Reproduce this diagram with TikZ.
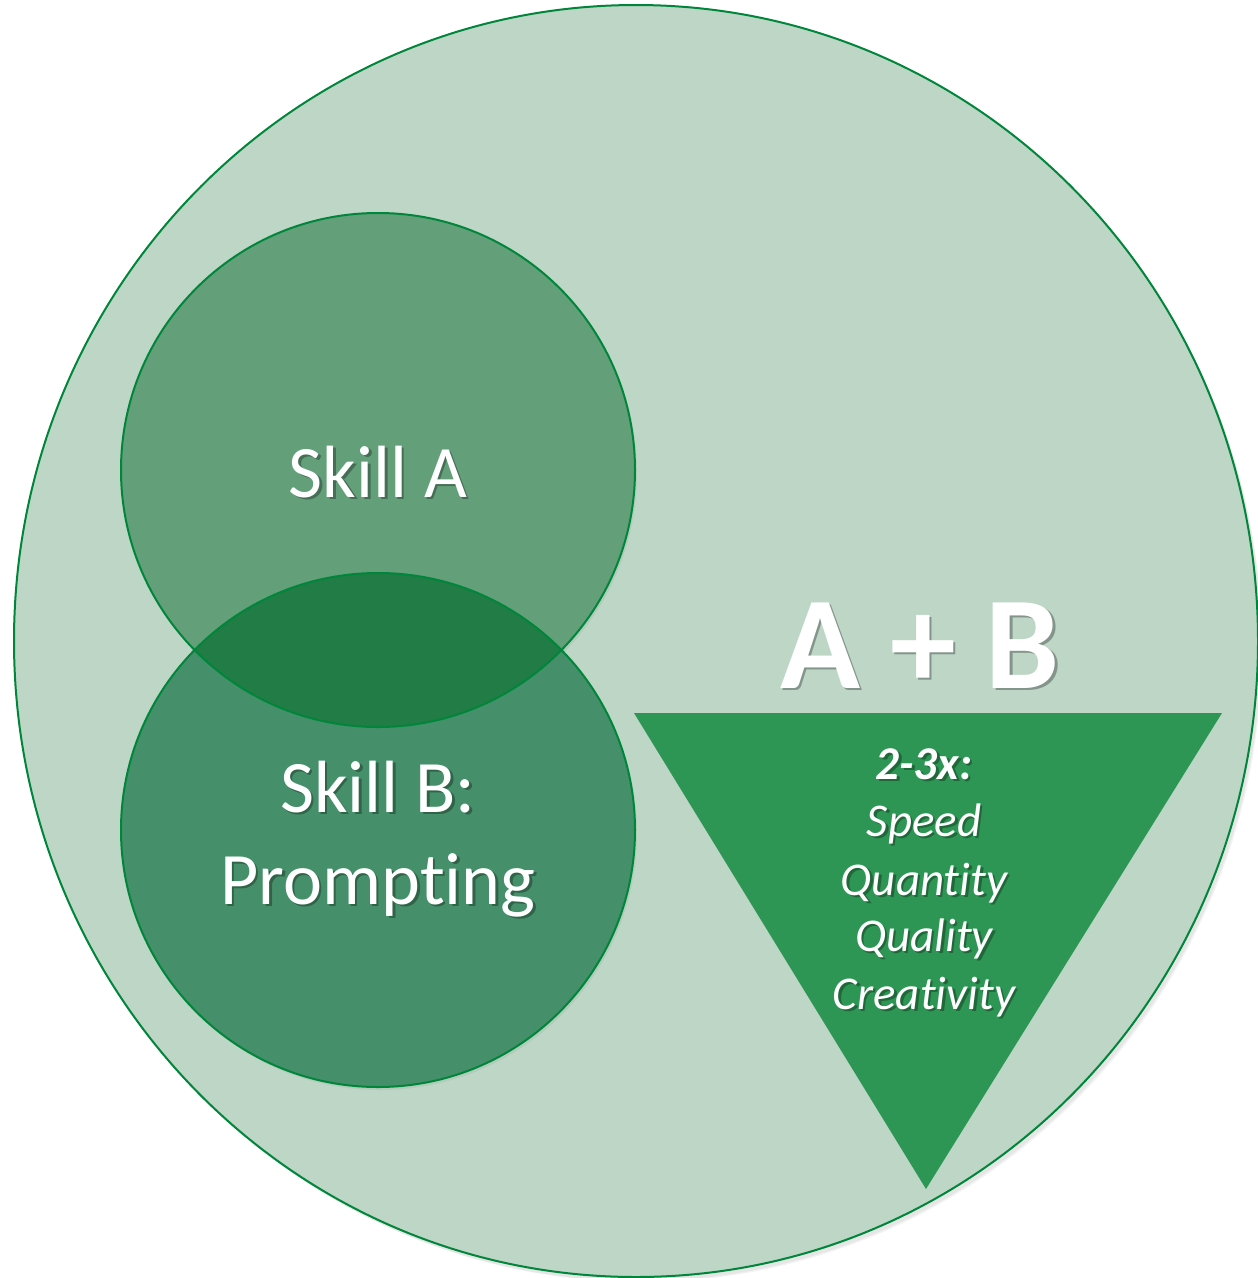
\documentclass[tikz,border=0pt]{standalone}
\usepackage{fontspec}
\setmainfont{Carlito}[Ligatures={NoCommon}]
\definecolor{bigfill}{HTML}{BDD6C6}
\definecolor{edgegreen}{HTML}{00863A}
\definecolor{afill}{HTML}{63A07A}
\definecolor{bfill}{HTML}{45906A}
\definecolor{abfill}{HTML}{227C45}
\definecolor{trifill}{HTML}{2E9654}
\newcommand{\stxt}[4]{%
  \node[shadowtext, font={#3}, xshift=2.5pt, yshift=-2.5pt] (#1s) at (#2) {#4};
  \node[whitetext, font={#3}] (#1) at (#2) {#4};
}
\begin{document}
\begin{tikzpicture}[x=1pt,y=-1pt,
  edgeline/.style={draw=edgegreen, line width=2pt},
  whitetext/.style={text=white, inner sep=0pt, anchor=base},
  shadowtext/.style={text=black, opacity=0.3, inner sep=0pt, anchor=base},
  shapeshadow/.style={fill=black, opacity=0.05}
]
\useasboundingbox (0,0) rectangle (1258,1278);
% outer circle
\fill[shapeshadow] (639,645) ellipse [x radius=622pt, y radius=636pt];
\fill[shapeshadow] (641,647) ellipse [x radius=621pt, y radius=635pt];
\fill[bigfill] (636,641) ellipse [x radius=622pt, y radius=636pt];
\draw[edgeline] (636,641) ellipse [x radius=622pt, y radius=636pt];
% skill circles
\fill[shapeshadow] (380,473) circle [radius=257pt];
\fill[shapeshadow] (380,833) circle [radius=257pt];
\fill[afill] (378,470) circle [radius=257pt];
\fill[bfill] (378,830) circle [radius=257pt];
\begin{scope}
  \clip (378,470) circle [radius=257pt];
  \fill[abfill] (378,830) circle [radius=257pt];
\end{scope}
\draw[edgeline] (378,470) circle [radius=257pt];
\draw[edgeline] (378,830) circle [radius=257pt];
% triangle
\fill[trifill] (634,713) -- (1222,713) -- (926,1189) -- cycle;
% texts
\stxt{skilla}{378,497}{\fontsize{74}{90}\selectfont}{Skill A}
\stxt{skillb}{378,812}{\fontsize{74}{90}\selectfont}{Skill B:}
\stxt{prompt}{378,904}{\fontsize{74}{90}\selectfont}{Prompting}
\stxt{aplusb}{920,688}{\fontsize{132}{150}\selectfont\bfseries}{A + B}
\stxt{factor}{924,779}{\fontsize{47}{57}\selectfont\bfseries\itshape}{2-3x:}
\stxt{speed}{924,836}{\fontsize{47}{57}\selectfont\itshape}{Speed}
\stxt{quantity}{924,895}{\fontsize{47}{57}\selectfont\itshape}{Quantity}
\stxt{quality}{924,951}{\fontsize{47}{57}\selectfont\itshape}{Quality}
\stxt{creativity}{924,1009}{\fontsize{47}{57}\selectfont\itshape}{Creativity}
\end{tikzpicture}
\end{document}
